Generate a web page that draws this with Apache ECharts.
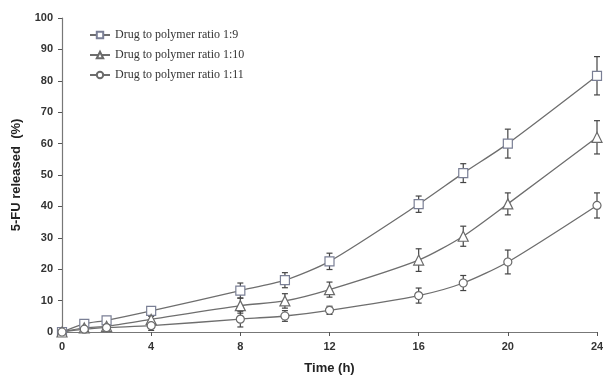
<!DOCTYPE html>
<html><head><meta charset="utf-8">
<script src="https://cdn.jsdelivr.net/npm/echarts@6/dist/echarts.min.js"></script>
<style>html,body{margin:0;padding:0;background:#fff}#c{width:603px;height:377px}</style>
</head><body><div id="c"></div>
<script>
const seriesNames = ['Drug to polymer ratio 1:9', 'Drug to polymer ratio 1:10', 'Drug to polymer ratio 1:11'];
const times = [0, 1, 2, 4, 8, 10, 12, 16, 18, 20, 24];
const ratio19 = [0, 2.6, 3.7, 6.7, 13.2, 16.5, 22.5, 40.7, 50.6, 60.0, 81.6];
const ratio19Err = [0, 0.5, 0.6, 1.0, 2.4, 2.4, 2.6, 2.6, 3.0, 4.6, 6.1];
const ratio110 = [0, 1.3, 1.8, 4.0, 8.4, 9.9, 13.5, 22.9, 30.5, 40.8, 62.0];
const ratio110Err = [0, 0.4, 0.5, 1.0, 2.4, 2.3, 2.4, 3.6, 3.2, 3.5, 5.3];
const ratio111 = [0, 0.9, 1.4, 2.0, 4.1, 5.1, 6.9, 11.6, 15.6, 22.3, 40.3];
const ratio111Err = [0, 0.3, 0.4, 1.5, 2.5, 1.7, 1.3, 2.4, 2.4, 3.8, 4.0];
const symbols = ['rect', 'triangle', 'circle'];
const xTicks = [0, 4, 8, 12, 16, 20, 24];

const values = [ratio19, ratio110, ratio111];
const errs = [ratio19Err, ratio110Err, ratio111Err];

const chart = echarts.init(document.getElementById('c'));
const lineSeries = [];
const errSeries = [];
values.forEach((vals, i) => {
  lineSeries.push({
    name: seriesNames[i],
    type: 'line',
    z: 3,
    smooth: 0.25,
    data: times.map((t, k) => [t, vals[k]]),
    symbol: symbols[i],
    symbolSize: i === 1 ? 10 : (i === 0 ? 9 : 8),
    showAllSymbol: true,
    lineStyle: { color: '#6e6e6e', width: 1.3 },
    itemStyle: { color: '#fff', borderColor: i === 0 ? '#7a7f95' : '#6a6a6a', borderWidth: 1.2 },
    emphasis: { disabled: true }
  });
  errSeries.push({
    name: 'err' + i,
    type: 'custom',
    z: 1,
    silent: true,
    data: times.map((t, k) => [t, vals[k] - errs[i][k], vals[k] + errs[i][k]]),
    encode: { x: 0, y: [1, 2] },
    renderItem: function (params, api) {
      if (api.value(2) - api.value(1) < 0.01) return null;
      const lo = api.coord([api.value(0), api.value(1)]);
      const hi = api.coord([api.value(0), api.value(2)]);
      const w = 3;
      const st = { stroke: '#444', lineWidth: 1.2 };
      return { type: 'group', children: [
        { type: 'line', shape: { x1: lo[0], y1: lo[1], x2: hi[0], y2: hi[1] }, style: st },
        { type: 'line', shape: { x1: lo[0] - w, y1: lo[1], x2: lo[0] + w, y2: lo[1] }, style: st },
        { type: 'line', shape: { x1: hi[0] - w, y1: hi[1], x2: hi[0] + w, y2: hi[1] }, style: st }
      ]};
    }
  });
});

chart.setOption({
  animation: false,
  backgroundColor: '#fff',
  grid: { left: 62, right: 6, top: 18, bottom: 45, outerBoundsMode: 'none', containLabel: false },
  legend: {
    data: seriesNames.map(n => ({ name: n })),
    orient: 'vertical',
    left: 84, top: 24,
    itemWidth: 20, itemHeight: 8, itemGap: 8,
    textStyle: { fontFamily: 'Liberation Serif, serif', fontSize: 12, color: '#333' }
  },
  xAxis: {
    type: 'value', min: 0, max: 24, interval: 4,
    name: 'Time (h)', nameLocation: 'middle', nameGap: 30,
    nameTextStyle: { fontFamily: 'Liberation Sans, Arial', fontWeight: 'bold', fontSize: 13, color: '#222' },
    axisLine: { lineStyle: { color: '#777', width: 1.2 } },
    axisTick: { show: true, length: 4, inside: false, lineStyle: { color: '#555' } },
    axisLabel: { formatter: v => xTicks.includes(v) ? String(v) : '', fontFamily: 'Liberation Sans, Arial', fontWeight: 'bold', fontSize: 11, color: '#333', margin: 9 },
    splitLine: { show: false }
  },
  yAxis: {
    type: 'value', min: 0, max: 100, interval: 10,
    name: '5-FU released  (%)', nameLocation: 'middle', nameGap: 39, nameRotate: 90,
    nameTextStyle: { fontFamily: 'Liberation Sans, Arial', fontWeight: 'bold', fontSize: 13, color: '#222' },
    axisLine: { show: true, lineStyle: { color: '#777', width: 1.2 } },
    axisTick: { show: true, length: 4, lineStyle: { color: '#555' } },
    axisLabel: { fontFamily: 'Liberation Sans, Arial', fontWeight: 'bold', fontSize: 11, color: '#333', margin: 9 },
    splitLine: { show: false }
  },
  series: lineSeries.concat(errSeries)
});
</script></body></html>
